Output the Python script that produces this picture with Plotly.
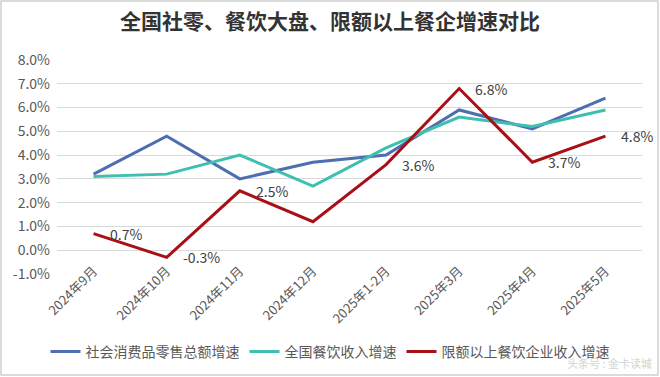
import plotly.graph_objects as go

categories = ["2024年9月", "2024年10月", "2024年11月", "2024年12月",
              "2025年1-2月", "2025年3月", "2025年4月", "2025年5月"]
retail = [3.2, 4.8, 3.0, 3.7, 4.0, 5.9, 5.1, 6.4]
catering = [3.1, 3.2, 4.0, 2.7, 4.3, 5.6, 5.2, 5.9]
above_limit = [0.7, -0.3, 2.5, 1.2, 3.6, 6.8, 3.7, 4.8]
label_shown = [True, True, True, False, True, True, True, True]
names = ["社会消费品零售总额增速", "全国餐饮收入增速", "限额以上餐饮企业收入增速"]
y_ticks = [-1, 0, 1, 2, 3, 4, 5, 6, 7, 8]

W, H = 660, 377
L, R, T, B = 57, 18, 60, 103
font = "Noto Sans CJK SC"

fig = go.Figure()
fig.add_trace(go.Scatter(x=categories, y=retail, name=names[0], mode="lines",
                         line=dict(color="#4e6eb2", width=3)))
fig.add_trace(go.Scatter(x=categories, y=catering, name=names[1], mode="lines",
                         line=dict(color="#3fbfb0", width=3)))
fig.add_trace(go.Scatter(x=categories, y=above_limit, name=names[2], mode="lines",
                         line=dict(color="#a80f16", width=3)))

for c, v, s in zip(categories, above_limit, label_shown):
    if s:
        fig.add_annotation(x=c, y=v, text="%.1f%%" % v, showarrow=False,
                           xanchor="left", yanchor="middle", xshift=14,
                           font=dict(size=14, color="#404040", family=font))

pw, ph = W - L - R, H - T - B
fig.add_shape(type="rect", xref="paper", yref="paper",
              x0=(1 - L) / pw, x1=(W - 2 - L) / pw,
              y0=-(H - 2 - T - ph) / ph, y1=1 + (T - 1) / ph,
              line=dict(color="#d0d0d0", width=1.5), layer="below")

fig.add_annotation(text="头条号 : 金卡读城", xref="paper", yref="paper",
                   x=(W - 6 - L) / pw, y=-(H - 14 - T - ph) / ph,
                   xanchor="right", yanchor="middle", showarrow=False,
                   font=dict(size=11, color="#d4d4d4", family=font))

fig.update_layout(
    width=W, height=H, margin=dict(l=L, r=R, t=T, b=B, autoexpand=False),
    paper_bgcolor="white", plot_bgcolor="white",
    title=dict(text="<b>全国社零、餐饮大盘、限额以上餐企增速对比</b>",
               x=0.5, xref="container", xanchor="center",
               y=1 - 22 / H, yref="container", yanchor="middle",
               font=dict(size=21, color="#333333", family=font)),
    font=dict(family=font, color="#595959"),
    showlegend=True,
    legend=dict(orientation="h", xref="container", x=0.5, xanchor="center",
                yref="container", y=1 - 352 / H, yanchor="middle",
                font=dict(size=14, color="#595959", family=font),
                itemwidth=30, tracegroupgap=0, bgcolor="rgba(0,0,0,0)"),
    xaxis=dict(type="category", range=[-0.5, len(categories) - 0.5],
               tickangle=-45, tickfont=dict(size=13, color="#595959"),
               showgrid=False, showline=False, ticks="", zeroline=False,
               automargin=False, ticklabelstandoff=-14),
    yaxis=dict(range=[-1, 8], tickvals=y_ticks,
               ticktext=["%.1f%%" % v for v in y_ticks],
               tickfont=dict(size=14, color="#595959"),
               showgrid=True, gridcolor="#d9d9d9", gridwidth=1,
               zeroline=False, showline=False, ticks="", automargin=False,
               ticklabelstandoff=6),
)

fig.write_html("out.html", config={"displayModeBar": False},
               post_script="document.body.style.margin='0';document.body.style.overflow='hidden';")
